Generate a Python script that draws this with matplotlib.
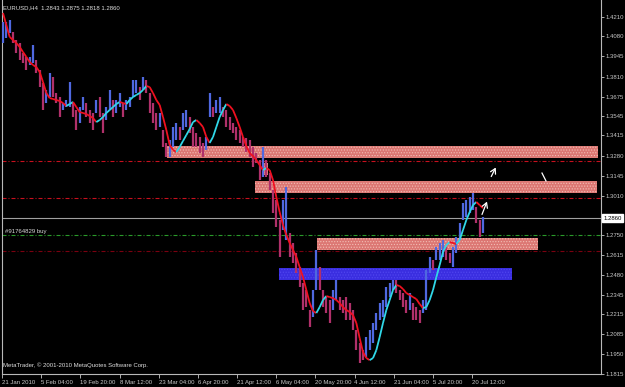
import matplotlib.pyplot as plt
import numpy as np
from matplotlib.collections import LineCollection
from matplotlib.patches import Rectangle
from matplotlib.transforms import blended_transform_factory

plt.rcParams['font.family'] = ['Liberation Sans', 'DejaVu Sans']
plt.rcParams['hatch.linewidth'] = 0.5

# EURUSD H4, one entry per (thinned) bar
highs = [1.4176, 1.4176, 1.4190, 1.4109, 1.4056, 1.4035, 1.3968, 1.3942, 1.3942, 1.4022,
         1.3921, 1.3854, 1.3767, 1.3720, 1.3834, 1.3807, 1.3700, 1.3673, 1.3633, 1.3653,
         1.3774, 1.3633, 1.3586, 1.3606, 1.3673, 1.3633, 1.3586, 1.3566, 1.3653, 1.3673,
         1.3566, 1.3606, 1.3720, 1.3653, 1.3653, 1.3700, 1.3633, 1.3653, 1.3673, 1.3787,
         1.3787, 1.3740, 1.3807, 1.3787, 1.3700, 1.3633, 1.3566, 1.3566, 1.3452, 1.3365,
         1.3385, 1.3472, 1.3499, 1.3472, 1.3566, 1.3586, 1.3539, 1.3472, 1.3432, 1.3405,
         1.3365, 1.3405, 1.3700, 1.3606, 1.3653, 1.3673, 1.3606, 1.3586, 1.3539, 1.3499,
         1.3472, 1.3452, 1.3405, 1.3398, 1.3385, 1.3338, 1.3297, 1.3250, 1.3338, 1.3250,
         1.3163, 1.3049, 1.2982, 1.2848, 1.2982, 1.3069, 1.2761, 1.2694, 1.2626, 1.2532,
         1.2425, 1.2378, 1.2244, 1.2378, 1.2647, 1.2532, 1.2378, 1.2331, 1.2311, 1.2378,
         1.2445, 1.2331, 1.2311, 1.2331, 1.2291, 1.2244, 1.2110, 1.2023, 1.1975, 1.2063,
         1.2110, 1.2157, 1.2224, 1.2291, 1.2311, 1.2398, 1.2425, 1.2445, 1.2445, 1.2378,
         1.2358, 1.2311, 1.2358, 1.2291, 1.2264, 1.2244, 1.2311, 1.2512, 1.2600, 1.2579,
         1.2667, 1.2694, 1.2714, 1.2667, 1.2626, 1.2667, 1.2734, 1.2828, 1.2962, 1.2982,
         1.3002, 1.3029, 1.2935, 1.2848, 1.2868]
lows = [1.4035, 1.4069, 1.4103, 1.4035, 1.3968, 1.3921, 1.3901, 1.3854, 1.3888, 1.3901,
        1.3834, 1.3740, 1.3586, 1.3633, 1.3673, 1.3673, 1.3633, 1.3539, 1.3586, 1.3606,
        1.3606, 1.3539, 1.3452, 1.3499, 1.3586, 1.3539, 1.3499, 1.3452, 1.3566, 1.3539,
        1.3432, 1.3519, 1.3586, 1.3539, 1.3566, 1.3606, 1.3539, 1.3586, 1.3606, 1.3673,
        1.3700, 1.3653, 1.3720, 1.3700, 1.3566, 1.3499, 1.3452, 1.3472, 1.3338, 1.3271,
        1.3271, 1.3338, 1.3385, 1.3385, 1.3452, 1.3472, 1.3432, 1.3338, 1.3338, 1.3297,
        1.3271, 1.3318, 1.3539, 1.3539, 1.3566, 1.3566, 1.3539, 1.3472, 1.3452, 1.3432,
        1.3385, 1.3365, 1.3338, 1.3304, 1.3271, 1.3203, 1.3230, 1.3116, 1.3136, 1.3136,
        1.3049, 1.2895, 1.2801, 1.2600, 1.2781, 1.2714, 1.2600, 1.2559, 1.2492, 1.2398,
        1.2244, 1.2264, 1.2130, 1.2197, 1.2378, 1.2378, 1.2264, 1.2224, 1.2157, 1.2244,
        1.2311, 1.2244, 1.2224, 1.2177, 1.2177, 1.2110, 1.1975, 1.1888, 1.1908, 1.1929,
        1.1975, 1.2023, 1.2110, 1.2177, 1.2197, 1.2264, 1.2331, 1.2378, 1.2358, 1.2311,
        1.2264, 1.2224, 1.2244, 1.2177, 1.2177, 1.2157, 1.2224, 1.2244, 1.2492, 1.2512,
        1.2579, 1.2579, 1.2600, 1.2579, 1.2559, 1.2532, 1.2626, 1.2714, 1.2848, 1.2868,
        1.2895, 1.2915, 1.2828, 1.2734, 1.2761]
# smoothed moving average drawn over the bars
ma = [1.4237, 1.4156, 1.4076, 1.4056, 1.4035, 1.4009, 1.3975, 1.3942, 1.3908, 1.3888,
      1.3874, 1.3841, 1.3774, 1.3700, 1.3666, 1.3660, 1.3653, 1.3646, 1.3633, 1.3613,
      1.3626, 1.3640, 1.3606, 1.3572, 1.3566, 1.3559, 1.3546, 1.3532, 1.3505, 1.3519,
      1.3539, 1.3566, 1.3586, 1.3606, 1.3626, 1.3640, 1.3633, 1.3626, 1.3653, 1.3673,
      1.3687, 1.3700, 1.3720, 1.3747, 1.3740, 1.3700, 1.3653, 1.3620, 1.3539, 1.3452,
      1.3351, 1.3318, 1.3304, 1.3338, 1.3378, 1.3418, 1.3458, 1.3505, 1.3519, 1.3499,
      1.3472, 1.3405, 1.3365, 1.3405, 1.3472, 1.3539, 1.3586, 1.3626, 1.3613, 1.3586,
      1.3532, 1.3472, 1.3405, 1.3344, 1.3297, 1.3277, 1.3250, 1.3217, 1.3183, 1.3197,
      1.3183, 1.3116, 1.3002, 1.2901, 1.2814, 1.2747, 1.2694, 1.2647, 1.2600, 1.2532,
      1.2465, 1.2378, 1.2291, 1.2237, 1.2224, 1.2264, 1.2311, 1.2338, 1.2331, 1.2324,
      1.2311, 1.2291, 1.2264, 1.2244, 1.2231, 1.2210, 1.2157, 1.2056, 1.1962, 1.1922,
      1.1908, 1.1922, 1.1975, 1.2063, 1.2157, 1.2244, 1.2311, 1.2378, 1.2412, 1.2405,
      1.2385, 1.2358, 1.2345, 1.2331, 1.2318, 1.2284, 1.2257, 1.2264, 1.2311, 1.2378,
      1.2465, 1.2546, 1.2633, 1.2680, 1.2700, 1.2694, 1.2687, 1.2714, 1.2781, 1.2848,
      1.2901, 1.2948, 1.2969, 1.2948, 1.2928]

date_labels = ['21 Jan 2010', '5 Feb 04:00', '19 Feb 20:00', '8 Mar 12:00', '23 Mar 04:00',
               '6 Apr 20:00', '21 Apr 12:00', '6 May 04:00', '20 May 20:00', '4 Jun 12:00',
               '21 Jun 04:00', '5 Jul 20:00', '20 Jul 12:00']
price_ticks = [1.4210, 1.4080, 1.3945, 1.3810, 1.3675, 1.3545, 1.3415, 1.3280, 1.3145,
               1.3010, 1.2750, 1.2615, 1.2480, 1.2345, 1.2215, 1.2085, 1.1950, 1.1815]

# supply / demand zones: (first bar, last bar, top, bottom)
sell_zones = [(49.2, 178.5, 1.3344, 1.3264), (75.6, 178.2, 1.3110, 1.3029),
              (94.2, 160.5, 1.2727, 1.2647), (77.7, 79.5, 1.3230, 1.3150)]
buy_zone = (82.8, 152.7, 1.2526, 1.2445)
red_levels = [1.3244, 1.2995]
order_level = 1.2747
stop_level = 1.2640
last_price = 1.2860
ohlc = ['1.2843', '1.2875', '1.2818', '1.2860']

fig = plt.figure(figsize=(6.25, 3.87), dpi=100, facecolor='black')
ax = fig.add_axes([2 / 625, 13 / 387, 599 / 625, 374 / 387])
ax.set_facecolor('black')

x = np.arange(len(highs))
hi = np.array(highs)
lo = np.array(lows)
mid = (hi + lo) / 2
up = np.r_[True, mid[1:] >= mid[:-1]]
ax.set_xlim(-0.3, 179.4)
ax.set_ylim(1.1815, 1.4324)

dd = (0, (3.6, 1.8, 0.9, 1.8))
for lvl in red_levels:
    ax.axhline(lvl, color='#c8101e', lw=0.8, ls=dd, zorder=1)
ax.axhline(order_level, color='#2a9a2a', lw=0.8, ls=dd, zorder=1)
ax.axhline(stop_level, color='#7a0010', lw=0.8, ls=dd, zorder=1)
ax.axhline(last_price, color='#a0a0a0', lw=0.8, zorder=1)

for x0, x1, top, bot in sell_zones:
    ax.add_patch(Rectangle((x0, bot), x1 - x0, top - bot, facecolor='#dc7773',
                           edgecolor='#f2bdb4', hatch='......', lw=0, zorder=2))
x0, x1, top, bot = buy_zone
ax.add_patch(Rectangle((x0, bot), x1 - x0, top - bot, facecolor='#3a2ee0',
                       edgecolor='#5248f0', hatch='......', lw=0, zorder=2))

ax.vlines(x, lo, hi, colors=np.where(up, '#4f68e0', '#b0306a'), lw=1.6, zorder=3)

m = np.array(ma)
segs = np.stack([np.c_[x[:-1], m[:-1]], np.c_[x[1:], m[1:]]], axis=1)
seg_cols = np.where(m[1:] > m[:-1], '#30d8e8', '#f01020')
ax.add_collection(LineCollection(segs, colors=seg_cols, lw=1.3, zorder=4))

# hand drawn arrows near the top right
arr = dict(arrowstyle='->,head_length=0.35,head_width=0.2', color='white', lw=0.9)
ax.annotate('', xy=(145.5, 1.2989), xytext=(143.4, 1.2868), arrowprops=arr, zorder=5)
ax.annotate('', xy=(148.2, 1.3217), xytext=(146.1, 1.3123), arrowprops=arr, zorder=5)
ax.plot([161.7, 162.9], [1.3163, 1.3110], color='white', lw=0.9, zorder=5)

ax.text(0.6, order_level + 0.0004, '#91764829 buy', color='#d8d8d8', fontsize=4.3,
        va='bottom', zorder=6)

ax.set_xticks(-0.3 + 11.75 * np.arange(len(date_labels)))
ax.set_xticklabels(date_labels)
plt.setp(ax.get_xticklabels(), ha='left')
ax.set_yticks(price_ticks)
ax.set_yticklabels(['%.4f' % p for p in price_ticks])
ax.yaxis.tick_right()
ax.tick_params(axis='x', colors='#c8c8c8', length=3, width=0.6, pad=1, labelsize=4.3)
ax.tick_params(axis='y', colors='#c8c8c8', length=2, width=0.6, pad=1.5, labelsize=4.3)
for side in ['left', 'right', 'bottom']:
    ax.spines[side].set_color('#b8b8b8')
    ax.spines[side].set_linewidth(0.8)
ax.spines['top'].set_visible(False)

trans = blended_transform_factory(ax.transAxes, ax.transData)
ax.text(1.004, last_price, '%.4f' % last_price, transform=trans, fontsize=4.3, color='black',
        va='center', ha='left', bbox=dict(boxstyle='square,pad=0.25', fc='white', ec='white'),
        clip_on=False)

fig.text(3 / 625, 1 - 8 / 387, 'EURUSD,H4  ' + ' '.join(ohlc), color='#e0e0e0',
         fontsize=4.3, va='center')
fig.text(3 / 625, 1 - 365 / 387, 'MetaTrader, \u00a9 2001-2010 MetaQuotes Software Corp.',
         color='#e0e0e0', fontsize=4.3, va='center')

fig.savefig('out.png', dpi=100, facecolor='black')
